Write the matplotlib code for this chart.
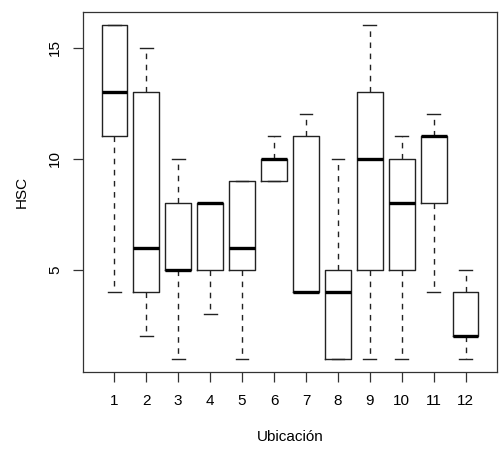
import matplotlib
matplotlib.use("Agg")
import matplotlib.pyplot as plt

plt.rcParams['font.family'] = ['Liberation Sans', 'DejaVu Sans']

ubicacion = ["1", "2", "3", "4", "5", "6", "7", "8", "9", "10", "11", "12"]
whisk_lo = [4, 2, 1, 3, 1, 9, 4, 1, 1, 1, 4, 1]
q1 = [11, 4, 5, 5, 5, 9, 4, 1, 5, 5, 8, 2]
median = [13, 6, 5, 8, 6, 10, 4, 4, 10, 8, 11, 2]
q3 = [16, 13, 8, 8, 9, 10, 11, 5, 13, 10, 11, 4]
whisk_hi = [16, 15, 10, 8, 9, 11, 12, 10, 16, 11, 12, 5]
y_ticks = [5, 10, 15]

stats = [
    dict(label=lab, whislo=lo, q1=a, med=m, q3=b, whishi=hi, fliers=[])
    for lab, lo, a, m, b, hi in zip(ubicacion, whisk_lo, q1, median, q3, whisk_hi)
]

fig = plt.figure(figsize=(4.99, 4.62), dpi=100)
ax = fig.add_axes([83 / 499, 90 / 462, (497 - 83) / 499, (372 - 12) / 462])

positions = list(range(1, len(ubicacion) + 1))
ax.bxp(
    stats,
    positions=positions,
    widths=0.8,
    capwidths=0.4,
    showfliers=False,
    boxprops=dict(color="#222222", linewidth=1.0),
    medianprops=dict(color="black", linewidth=2.4, solid_capstyle="butt"),
    whiskerprops=dict(color="#222222", linewidth=1.0, linestyle=(0, (4, 4))),
    capprops=dict(color="#222222", linewidth=1.0),
)

ax.set_xlim(0.02, 12.98)
ax.set_ylim(0.4, 16.6)
ax.set_xticks(positions)
ax.set_xticklabels(ubicacion)
ax.set_yticks(y_ticks)
ax.set_yticklabels([str(t) for t in y_ticks], rotation=90, va="center")

for s in ax.spines.values():
    s.set_color("#333333")
    s.set_linewidth(0.9)

ax.tick_params(axis="both", direction="out", length=7, width=0.9,
               color="#333333", labelsize=11)
ax.tick_params(axis="x", pad=9)
ax.tick_params(axis="y", pad=8)

ax.set_xlabel("Ubicación", fontsize=11, labelpad=16)
ax.set_ylabel("HSC", fontsize=11, labelpad=14)

fig.savefig("out.png", dpi=100)
